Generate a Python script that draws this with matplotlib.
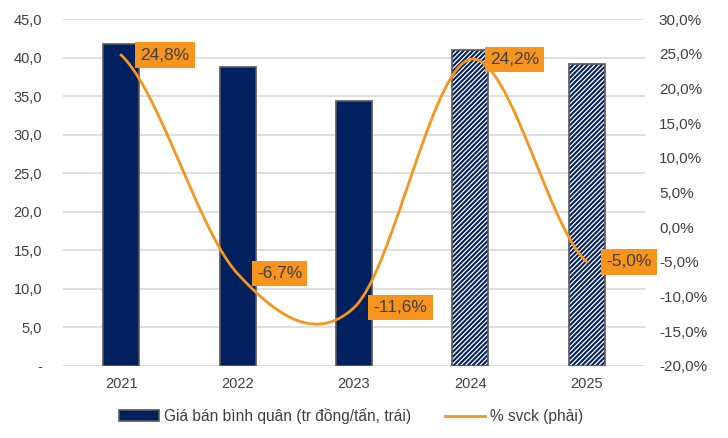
import matplotlib.pyplot as plt
from matplotlib.patches import Patch
from matplotlib.lines import Line2D
import numpy as np

plt.rcParams['font.family'] = ['Liberation Sans', 'DejaVu Sans']
plt.rcParams['hatch.linewidth'] = 1.5

years = ['2021', '2022', '2023', '2024', '2025']
price = [41.7, 38.8, 34.4, 41.0, 39.2]
yoy = [24.8, -6.7, -11.6, 24.2, -5.0]
forecast = [False, False, False, True, True]

NAVY = '#002060'
ORANGE = '#F7941D'
TXT = '#404040'
GRID = '#D9D9D9'


def smooth(y, n=40):
    # catmull-rom style smoothing like Excel's smoothed line
    y = np.asarray(y, float)
    m = np.zeros_like(y)
    m[1:-1] = (y[2:] - y[:-2]) / 2
    m[0] = (y[1] - y[0]) / 2
    m[-1] = (y[-1] - y[-2]) / 2
    xs, ys = [], []
    for i in range(len(y) - 1):
        t = np.linspace(0, 1, n)
        h00 = 2*t**3 - 3*t**2 + 1
        h10 = t**3 - 2*t**2 + t
        h01 = -2*t**3 + 3*t**2
        h11 = t**3 - t**2
        xs.append(i + t)
        ys.append(h00*y[i] + h10*m[i] + h01*y[i+1] + h11*m[i+1])
    return np.concatenate(xs), np.concatenate(ys)


fig = plt.figure(figsize=(7.28, 4.38), dpi=100)
ax = fig.add_axes([0.0865, 0.1644, 0.7995, 0.7922])
ax2 = ax.twinx()

x = np.arange(len(years))
w = 0.31
for xi, v, f in zip(x, price, forecast):
    if f:
        ax.bar(xi, v, w, color='white', edgecolor=NAVY, hatch='///////', linewidth=0, zorder=2)
        ax.bar(xi, v, w, fill=False, edgecolor='#595959', linewidth=1.2, zorder=3)
    else:
        ax.bar(xi, v, w, color=NAVY, edgecolor='#595959', linewidth=1.2, zorder=2)

ax.set_xlim(-0.5, 4.5)
ax.set_ylim(0, 45)
ax.set_yticks(np.arange(0, 46, 5))
ax.set_yticklabels(['-'] + [f'{v:.1f}'.replace('.', ',') for v in np.arange(5, 46, 5)])
ax.set_xticks(x)
ax.set_xticklabels(years)
ax.grid(axis='y', color=GRID, linewidth=1.2, zorder=0)
ax.set_axisbelow(True)

ax2.set_ylim(-20, 30)
ax2.set_yticks(np.arange(-20, 31, 5))
ax2.set_yticklabels([f'{v:.1f}%'.replace('.', ',') for v in np.arange(-20, 31, 5)])

for a in (ax, ax2):
    for s in a.spines.values():
        s.set_visible(False)
    a.tick_params(length=0, labelsize=10.5, colors=TXT)
ax.tick_params(axis='x', pad=8)
ax.tick_params(axis='y', pad=15)
ax2.tick_params(axis='y', pad=10, labelsize=11)

sx, sy = smooth(yoy)
ax2.plot(sx, sy, color=ORANGE, linewidth=2, zorder=4)
for xi, v in zip(x, yoy):
    ax2.annotate(f'{v:.1f}%'.replace('.', ','), (xi, v), xytext=(14, 0),
                 textcoords='offset points', ha='left', va='center',
                 fontsize=12.5, color=TXT, zorder=6, annotation_clip=False,
                 bbox=dict(boxstyle='square,pad=0.3', facecolor=ORANGE, edgecolor='none'))

handles = [Patch(facecolor=NAVY, edgecolor='#595959', linewidth=1.2),
           Line2D([0], [0], color=ORANGE, linewidth=2)]
labels = ['Giá bán bình quân (tr đồng/tấn, trái)', '% svck (phải)']
fig.legend(handles, labels, loc='lower center', bbox_to_anchor=(0.482, 0.0), ncol=2,
           frameon=False, fontsize=11.2, columnspacing=2.2, handlelength=2.6,
           handletextpad=0.3, labelcolor=TXT)

fig.savefig('out.png', dpi=100)
